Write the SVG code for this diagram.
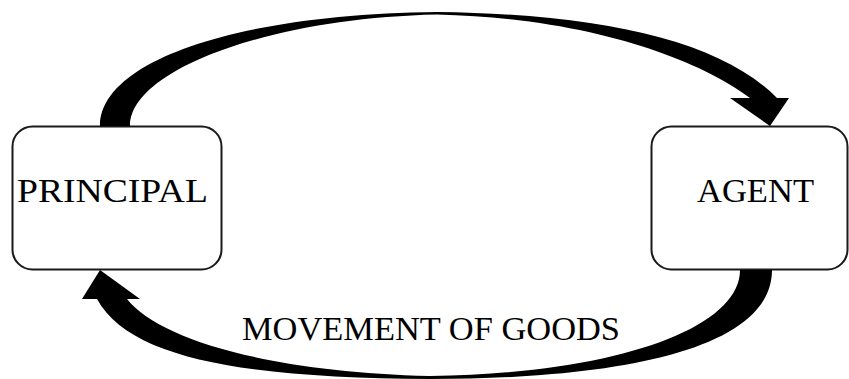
<svg xmlns="http://www.w3.org/2000/svg" width="849" height="379" viewBox="0 0 849 379">
  <style>
    .box { fill: #ffffff; stroke: #1a1a1a; stroke-width: 2; }
    .lbl { font-family: "Liberation Serif", "Times New Roman", serif; font-size: 34px; fill: #000000; text-anchor: middle; }
    .arrow { fill: #000000; stroke: none; }
  </style>
  <rect width="849" height="379" fill="#ffffff"/>
  <g id="principal">
    <rect class="box" x="12.5" y="126.5" width="209" height="143" rx="20" ry="20"/>
    <text class="lbl" x="112.5" y="202" textLength="191" lengthAdjust="spacingAndGlyphs">PRINCIPAL</text>
  </g>
  <g id="agent">
    <rect class="box" x="651.5" y="126.5" width="196" height="143" rx="20" ry="20"/>
    <text class="lbl" x="755.5" y="202" textLength="117" lengthAdjust="spacingAndGlyphs">AGENT</text>
  </g>
  <g id="connectors">
    <path class="arrow" d="M 100,126 C 100,60 240,14 437,12 C 600,14 720,40 777,98 L 789,98 L 770,126 L 730,98 L 750,98 C 700,60 590,18 437,14.5 C 270,18 130,70 130,126 Z"/>
    <path class="arrow" d="M 772,270 C 772,355 600,379 430,379 C 250,378 130,360 97,299 L 82,299 L 100,270 L 140,299 L 127,299 C 160,340 270,372 430,376 C 610,374 740,330 740,270 Z"/>
    <text class="lbl" x="431" y="340" textLength="378" lengthAdjust="spacingAndGlyphs">MOVEMENT OF GOODS</text>
  </g>
</svg>
